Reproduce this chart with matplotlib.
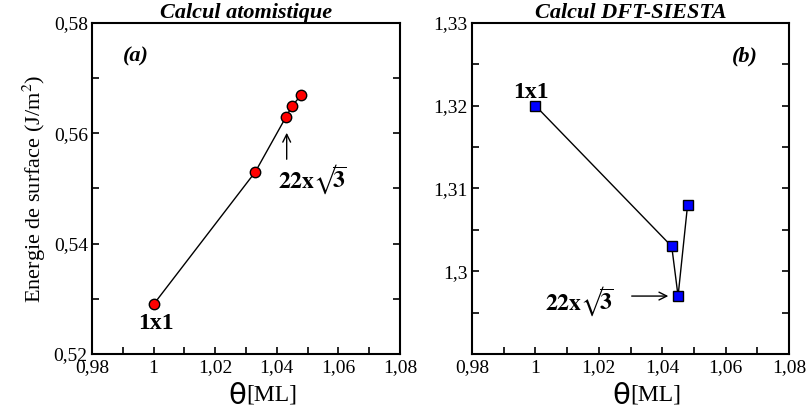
import matplotlib.pyplot as plt
from matplotlib.ticker import MultipleLocator, FuncFormatter

plt.rcParams['font.family'] = ['Liberation Serif', 'DejaVu Serif']
plt.rcParams['mathtext.fontset'] = 'stix'

# surface energy vs coverage
theta_a = [1.0, 1.033, 1.043, 1.045, 1.048]
energy_a = [0.529, 0.553, 0.563, 0.565, 0.567]

theta_b = [1.0, 1.043, 1.045, 1.048]
energy_b = [1.320, 1.303, 1.297, 1.308]

ROOT_LABEL = '$\\mathbf{22x}\u221a\\!\\overline{\\mathbf{3}}$'


def comma_fmt(v, pos):
    s = ('%.3f' % v).rstrip('0').rstrip('.')
    return s.replace('.', ',')


def style_axes(ax, ymin, ymax, ystep):
    ax.set_xlim(0.98, 1.08)
    ax.set_ylim(ymin, ymax)
    ax.xaxis.set_major_locator(MultipleLocator(0.02))
    ax.xaxis.set_minor_locator(MultipleLocator(0.01))
    ax.yaxis.set_major_locator(MultipleLocator(ystep))
    ax.yaxis.set_minor_locator(MultipleLocator(ystep / 2))
    ax.xaxis.set_major_formatter(FuncFormatter(comma_fmt))
    ax.yaxis.set_major_formatter(FuncFormatter(comma_fmt))
    ax.tick_params(which='both', direction='in', length=5, width=1.2,
                   left=True, right=True, bottom=True, top=False,
                   labelsize=14, pad=3)
    ax.tick_params(axis='x', pad=4)
    for sp in ax.spines.values():
        sp.set_linewidth(1.5)


def theta_label(ax):
    ax.text(0.5, -0.085, '\u03b8', transform=ax.transAxes, fontsize=21,
            ha='right', va='top', family='DejaVu Sans')
    ax.text(0.5, -0.092, '[ML]', transform=ax.transAxes, fontsize=17,
            ha='left', va='top')


fig = plt.figure(figsize=(8.08, 4.12), dpi=100)
ax1 = fig.add_axes([0.1139, 0.1408, 0.3812, 0.8034])
ax2 = fig.add_axes([0.5842, 0.1408, 0.3923, 0.8034])

# (a) atomistic calculation
ax1.plot(theta_a, energy_a, color='black', lw=1, marker='o', ms=7.5,
         mfc='red', mec='black', mew=1)
style_axes(ax1, 0.52, 0.58, 0.02)
ax1.set_title('Calcul atomistique', fontsize=16, fontweight='bold',
              style='italic', pad=3)
ax1.set_ylabel('Energie de surface (J/m$^{2}$)', fontsize=16, labelpad=4)
ax1.text(0.1, 0.9, '(a)', transform=ax1.transAxes, fontsize=16,
         fontweight='bold', style='italic', ha='left', va='center')
ax1.text(1.0009, 0.5256, '1x1', fontsize=17, fontweight='bold',
         ha='center', va='center')
ax1.text(1.0405, 0.5517, ROOT_LABEL, fontsize=17, ha='left', va='center')
ax1.annotate('', xy=(1.0432, 0.5606), xytext=(1.0432, 0.5548),
             arrowprops=dict(arrowstyle='->', color='black', lw=1,
                             mutation_scale=14))
theta_label(ax1)

# (b) DFT-SIESTA calculation
ax2.plot(theta_b, energy_b, color='black', lw=1, marker='s', ms=7,
         mfc='blue', mec='black', mew=1)
style_axes(ax2, 1.29, 1.33, 0.01)
ax2.set_yticks([1.30, 1.31, 1.32, 1.33])
ax2.set_title('Calcul DFT-SIESTA', fontsize=16, fontweight='bold',
              style='italic', pad=3)
ax2.text(0.9, 0.9, '(b)', transform=ax2.transAxes, fontsize=16,
         fontweight='bold', style='italic', ha='right', va='center')
ax2.text(0.9985, 1.3216, '1x1', fontsize=17, fontweight='bold',
         ha='center', va='center')
ax2.text(1.0245, 1.2964, ROOT_LABEL, fontsize=17, ha='right', va='center')
ax2.annotate('', xy=(1.0428, 1.297), xytext=(1.0295, 1.297),
             arrowprops=dict(arrowstyle='->', color='black', lw=1,
                             mutation_scale=14))
theta_label(ax2)

fig.savefig('out.png', dpi=100)
